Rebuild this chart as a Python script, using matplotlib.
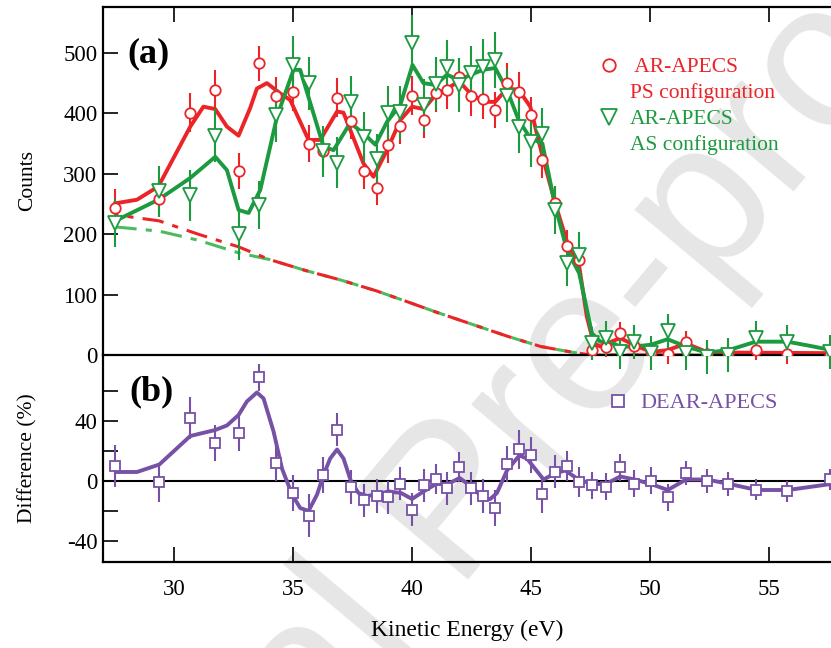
import matplotlib
matplotlib.use("Agg")
import matplotlib.pyplot as plt
from matplotlib.lines import Line2D
from matplotlib.ticker import MultipleLocator, FixedLocator

plt.rcParams['font.family'] = ['Liberation Serif', 'DejaVu Serif']
plt.rcParams['axes.unicode_minus'] = False

RED = '#ec2327'
GREEN = '#1c9a3f'
GREEN_BG = '#4cbb5c'
PURPLE = '#7651a6'

# measured energies (eV), shared by both configurations
energy = [27.52, 29.36, 30.65, 31.72, 32.72, 33.55, 34.29, 34.99, 35.64, 36.26,
          36.85, 37.44, 37.97, 38.50, 38.98, 39.50, 40.00, 40.48, 40.99, 41.47,
          41.98, 42.48, 42.99, 43.49, 43.98, 44.49, 44.98, 45.47, 46.01, 46.50,
          47.02, 47.55, 48.14, 48.74, 49.34, 50.04, 50.73, 51.51, 52.38, 53.29,
          54.44, 55.77, 57.56]

ps_counts = [244, 258, 401, 439, 305, 483, 428, 436, 350, 338,
             426, 388, 304, 276, 347, 379, 429, 389, 434, 439,
             460, 428, 423, 405, 451, 436, 397, 323, 251, 181,
             157, 9, 14, 37, 15, 5, 2, 22, 2, 3,
             8, 2, 2]
ps_err = [30, 30, 32, 32, 30, 29, 32, 32, 30, 30,
          32, 30, 30, 28, 30, 30, 32, 30, 32, 32,
          32, 32, 32, 30, 32, 32, 30, 30, 28, 26,
          26, 18, 18, 18, 18, 17, 17, 18, 17, 17,
          17, 17, 17]

as_counts = [218, 271, 264, 363, 200, 248, 397, 480, 450, 337,
             318, 418, 361, 325, 401, 402, 516, 413, 449, 476,
             447, 466, 477, 488, 429, 378, 353, 366, 240, 153,
             165, 19, 28, 5, 22, 3, 39, 3, -3, 0,
             28, 22, 5]
as_err = [40, 42, 42, 44, 42, 40, 44, 48, 44, 42,
          42, 44, 42, 40, 44, 44, 46, 44, 44, 46,
          44, 46, 46, 46, 44, 44, 42, 42, 40, 38,
          38, 28, 28, 28, 28, 28, 29, 28, 28, 28,
          28, 28, 28]

# fitted curves
fit_e_ps = [27.52, 28.43, 29.33, 30.67, 31.22, 31.72, 32.21, 32.70, 33.19, 33.47,
            33.89, 34.45, 34.87, 35.64, 36.13, 36.84, 37.11, 37.95, 38.37, 38.94,
            39.50, 39.99, 40.48, 40.97, 41.46, 41.97, 42.44, 43.00, 43.49, 43.98,
            44.47, 44.96, 45.48, 46.00, 46.50, 47.02, 47.34, 47.62, 47.90, 48.18,
            48.74, 49.30, 50.04, 50.73, 51.51, 52.38, 53.29, 57.60]
fit_ps = [251, 257, 279, 378, 411, 407, 378, 363, 409, 441,
          450, 433, 422, 356, 356, 403, 401, 317, 295, 339,
          389, 411, 407, 430, 441, 453, 433, 419, 419, 441,
          439, 411, 328, 252, 188, 146, 63, 20, 14, 19,
          28, 17, 5, 8, 19, 5, 4, 3]

fit_e_as = [27.52, 29.33, 30.67, 31.72, 32.21, 32.70, 33.12, 33.61, 34.32, 35.01,
            35.29, 36.27, 36.69, 37.39, 37.95, 38.45, 38.94, 39.50, 40.01, 40.47,
            40.97, 41.46, 41.97, 42.47, 42.97, 43.49, 43.98, 44.47, 44.96, 45.47,
            46.01, 46.50, 47.02, 47.55, 47.90, 48.46, 48.74, 49.34, 50.04, 50.73,
            51.51, 52.38, 53.29, 54.44, 55.77, 56.86, 57.60]
fit_as = [222, 257, 293, 328, 306, 240, 235, 273, 395, 472,
          472, 345, 339, 384, 367, 348, 386, 414, 480, 450,
          447, 464, 455, 464, 472, 475, 439, 389, 359, 350,
          246, 174, 135, 36, 22, 19, 14, 14, 17, 26,
          14, 4, 8, 22, 22, 14, 8]

# background (dash-dot)
bg_e = [27.52, 29.36, 31.0, 32.7, 34.0, 35.5, 37.0, 38.5, 39.8, 41.0,
        42.5, 44.0, 45.4, 46.8, 47.5, 57.6]
bg_ps = [232, 222, 200, 179, 158, 140, 124, 106, 88, 71, 51, 31, 14, 4, 0, 0]
bg_as = [212, 205, 190, 169, 158, 140, 124, 106, 88, 71, 51, 31, 14, 4, 0, 0]

# difference (%)
diff = [10, -1, 42, 25, 32, 69, 12, -8, -23, 4,
        34, -4, -13, -10, -11, -2, -19, -3, 1, -5,
        9, -5, -10, -18, 11, 21, 17, -9, 6, 10,
        -1, -3, -4, 9, -2, 0, -11, 5, 0, -2,
        -6, -7, 1]
diff_err = [14, 13, 14, 12, 12, 9, 12, 12, 14, 12,
            11, 11, 11, 11, 11, 11, 11, 11, 10, 11,
            10, 11, 11, 12, 12, 13, 12, 12, 11, 10,
            10, 9, 9, 9, 9, 9, 9, 8, 8, 8,
            7, 7, 7]

fit_e_diff = [27.55, 28.43, 29.37, 30.67, 31.72, 32.21, 32.70, 33.05, 33.47, 33.75,
              34.17, 34.53, 34.95, 35.29, 35.64, 36.00, 36.27, 36.55, 36.84, 37.11,
              37.42, 37.74, 38.10, 38.52, 39.00, 39.53, 39.99, 40.47, 41.00, 41.50,
              41.99, 42.51, 43.00, 43.28, 43.56, 43.98, 44.50, 44.82, 45.17, 45.52,
              45.98, 46.43, 46.99, 47.55, 48.14, 48.74, 49.34, 50.03, 50.74, 51.51,
              52.38, 53.33, 54.48, 55.79, 57.60]
fit_diff = [6, 6, 11, 30, 34, 37, 44, 53, 59, 55,
            33, 8, -9, -18, -20, -9, 4, 15, 21, 15,
            0, -8, -10, -9, -7, -8, -12, -7, -2, -2,
            2, -4, -12, -12, -8, 7, 17, 15, 8, 1,
            5, 7, 1, -2, -2, 3, 1, -2, -6, 1,
            1, -2, -6, -6, -2]

diff_major = [-40, 0, 40]
diff_minor = [-20, 20, 60]

fig = plt.figure(figsize=(8.31, 6.48), dpi=100)

# watermark behind everything
fig.text(0.55, 0.215, 'Journal Pre-proof', rotation=50, fontsize=150,
         family='Liberation Sans', color='#e6e6e6', ha='center', va='center',
         zorder=-5)

ax1 = fig.add_axes([0.1239, 0.4522, 0.8761, 0.5370])
ax2 = fig.add_axes([0.1239, 0.1327, 0.8761, 0.3195])
for ax in (ax1, ax2):
    ax.patch.set_alpha(0)
    ax.set_xlim(27.0, 57.6)
    ax.spines['right'].set_visible(False)
    for s in ('left', 'top', 'bottom'):
        ax.spines[s].set_linewidth(1.6)
    ax.tick_params(direction='in', length=11, width=1.2, labelsize=16.5, pad=4)

# ---- panel (a)
ax1.plot(bg_e, bg_as, color=GREEN_BG, lw=2.2, ls=(0, (7, 3, 2, 3)))
ax1.plot(bg_e, bg_ps, color=RED, lw=2.2, ls=(6, (7, 3, 2, 3)))
ax1.plot(fit_e_ps, fit_ps, color=RED, lw=2.8, solid_joinstyle='round')
ax1.plot(fit_e_as, fit_as, color=GREEN, lw=2.8, solid_joinstyle='round')
eb1 = ax1.errorbar(energy, ps_counts, yerr=ps_err, fmt='o', ms=7.5, mfc='white',
                   mec=RED, mew=1.3, ecolor=RED, elinewidth=1.5, capsize=0, zorder=4)
eb2 = ax1.errorbar(energy, as_counts, yerr=as_err, fmt='v', ms=9.5, mfc='white',
                   mec=GREEN, mew=1.3, ecolor=GREEN, elinewidth=1.5, capsize=0, zorder=4)
for eb in (eb1, eb2):
    for c in eb.lines[2]:
        c.set_clip_on(False)

ax1.set_ylim(0, 576)
ax1.yaxis.set_major_locator(MultipleLocator(100))
ax1.xaxis.set_major_locator(MultipleLocator(5))
ax1.tick_params(axis='x', top=True, bottom=False, labelbottom=False)
ax1.set_ylabel('Counts', fontsize=15.5)
ax1.yaxis.set_label_coords(-0.09, 0.5)
ax1.text(0.033, 0.84, '(a)', transform=ax1.transAxes, fontsize=26,
         fontweight='bold')

handles = [Line2D([], [], ls='none', marker='o', ms=9, mfc='white', mec=RED, mew=1.3),
           Line2D([], [], ls='none'),
           Line2D([], [], ls='none', marker='v', ms=11, mfc='white', mec=GREEN, mew=1.3),
           Line2D([], [], ls='none')]
labels = [' AR-APECS', 'PS configuration', 'AR-APECS', 'AS configuration']
ax1.legend(handles, labels, loc='upper left', bbox_to_anchor=(0.668, 0.88),
           frameon=False, fontsize=15.5, handlelength=1.0, handletextpad=0.5,
           labelspacing=0.27, labelcolor=[RED, RED, GREEN, GREEN],
           borderaxespad=0)

# ---- panel (b)
ax2.axhline(0, color='black', lw=1.5, zorder=1)
ax2.plot(fit_e_diff, fit_diff, color=PURPLE, lw=2.8, solid_joinstyle='round')
ax2.errorbar(energy, diff, yerr=diff_err, fmt='s', ms=7, mfc='white', mec=PURPLE,
             mew=1.3, ecolor=PURPLE, elinewidth=1.5, capsize=0, zorder=4)
ax2.set_ylim(-54, 84)
ax2.yaxis.set_major_locator(FixedLocator(diff_major))
ax2.yaxis.set_minor_locator(FixedLocator(diff_minor))
ax2.tick_params(axis='y', which='minor', direction='in', length=11, width=1.2)
ax2.xaxis.set_major_locator(MultipleLocator(5))
ax2.tick_params(axis='x', top=False, bottom=True, pad=12)
ax2.spines['top'].set_visible(False)
ax2.set_ylabel('Difference (%)', fontsize=15.5)
ax2.yaxis.set_label_coords(-0.09, 0.5)
ax2.set_xlabel('Kinetic Energy (eV)', fontsize=17)
ax2.xaxis.set_label_coords(0.5, -0.28)
ax2.text(0.036, 0.78, '(b)', transform=ax2.transAxes, fontsize=26,
         fontweight='bold')
h2 = [Line2D([], [], ls='none', marker='s', ms=9, mfc='white', mec=PURPLE, mew=1.3)]
ax2.legend(h2, ['DEAR-APECS'], loc='upper left', bbox_to_anchor=(0.68, 0.86),
           frameon=False, fontsize=16, handlelength=1.0, handletextpad=0.5,
           labelcolor=PURPLE, borderaxespad=0)

fig.savefig('out.png', dpi=100)
